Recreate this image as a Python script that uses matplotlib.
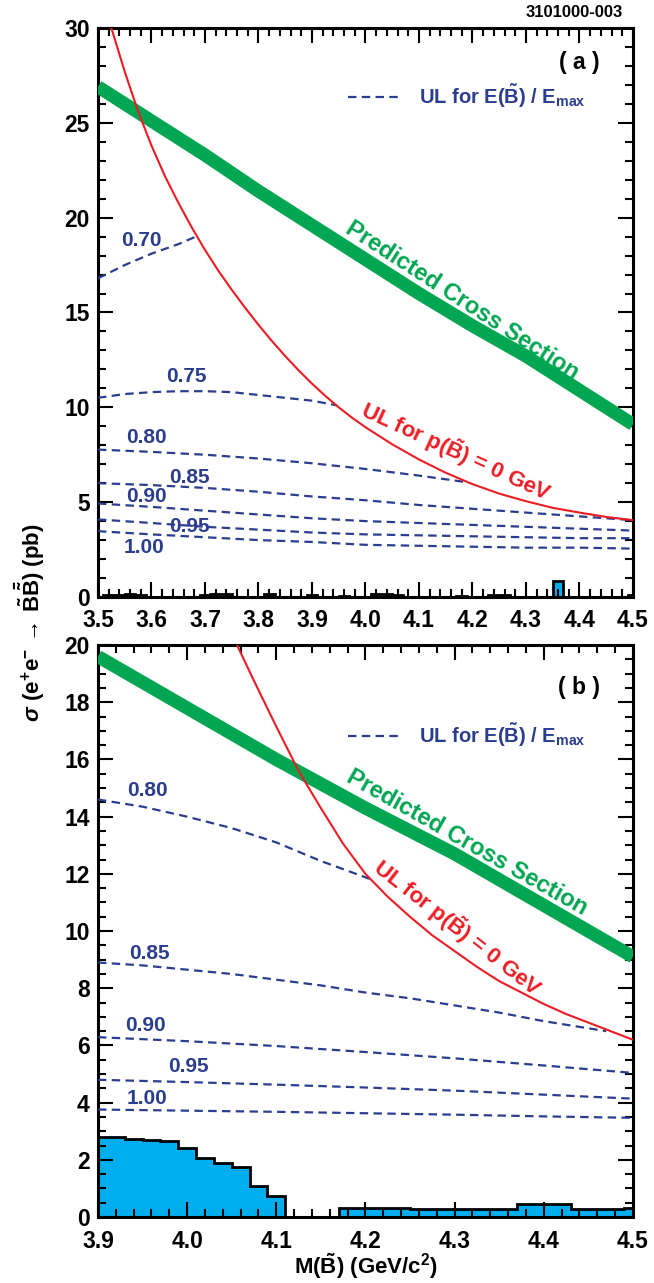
import numpy as np
import matplotlib
matplotlib.use('Agg')
import matplotlib.pyplot as plt
from matplotlib.ticker import MultipleLocator, FormatStrFormatter

plt.rcParams['font.family'] = ['Liberation Sans', 'DejaVu Sans']
plt.rcParams['font.weight'] = 'bold'
plt.rcParams['mathtext.fontset'] = 'custom'
plt.rcParams['mathtext.rm'] = 'Liberation Sans:bold'
plt.rcParams['mathtext.bf'] = 'Liberation Sans:bold'
plt.rcParams['mathtext.it'] = 'Liberation Sans:bold:italic'
plt.rcParams['mathtext.fallback'] = 'stix'

BLUE = '#2b3d8e'
RED = '#ed1c24'
GREEN = '#00a651'
FILL = '#00aeef'

# ---------------- panel (a) data ----------------
xs_a = [3.5, 3.6, 3.7, 3.8, 3.9, 4.0, 4.1, 4.2, 4.3, 4.4, 4.5]
pred_a = [26.9, 25.1, 23.3, 21.4, 19.6, 17.8, 16.0, 14.3, 12.7, 10.9, 9.1]

red_x_a = [3.525, 3.55, 3.575, 3.6, 3.625, 3.65, 3.675, 3.7, 3.725, 3.75, 3.775,
           3.8, 3.825, 3.85, 3.875, 3.9, 3.925, 3.95, 3.975, 4.0, 4.05, 4.1,
           4.15, 4.2, 4.25, 4.3, 4.35, 4.4, 4.45, 4.5]
red_y_a = [30.0, 27.7, 25.6, 23.8, 22.2, 20.8, 19.5, 18.3, 17.2, 16.2, 15.25,
           14.35, 13.5, 12.7, 11.95, 11.25, 10.6, 10.0, 9.45, 8.95, 8.05, 7.25,
           6.55, 5.95, 5.45, 5.05, 4.7, 4.45, 4.22, 4.05]

ul_a = {
    '0.70': ([3.5, 3.55, 3.6, 3.65, 3.683], [16.8, 17.5, 18.1, 18.6, 19.0]),
    '0.75': ([3.5, 3.55, 3.6, 3.65, 3.7, 3.75, 3.8, 3.85, 3.9, 3.947],
             [10.5, 10.7, 10.8, 10.85, 10.85, 10.8, 10.65, 10.5, 10.35, 10.1]),
    '0.80': ([3.5, 3.6, 3.7, 3.8, 3.9, 4.0, 4.1, 4.19],
             [7.77, 7.65, 7.5, 7.3, 7.05, 6.75, 6.4, 6.05]),
    '0.85': (xs_a, [6.0, 5.9, 5.75, 5.55, 5.3, 5.1, 4.85, 4.65, 4.45, 4.25, 4.05]),
    '0.90': (xs_a, [4.93, 4.75, 4.55, 4.35, 4.15, 4.0, 3.9, 3.8, 3.7, 3.6, 3.5]),
    '0.95': (xs_a, [4.09, 3.9, 3.7, 3.55, 3.4, 3.3, 3.25, 3.2, 3.15, 3.1, 3.1]),
    '1.00': (xs_a, [3.47, 3.3, 3.15, 3.0, 2.9, 2.75, 2.7, 2.65, 2.6, 2.6, 2.55]),
}
ul_label_pos_a = {
    '0.70': (3.582, 18.8), '0.75': (3.666, 11.6), '0.80': (3.59, 8.4),
    '0.85': (3.671, 6.3), '0.90': (3.59, 5.3), '0.95': (3.671, 3.7),
    '1.00': (3.586, 2.6),
}

hist_edges_a = np.round(np.arange(3.49, 4.5101, 0.02), 3)
hist_a = [0, 0.09, 0.09, 0.18, 0.10, 0, 0, 0, 0, 0,
          0.08, 0.18, 0.18, 0, 0, 0, 0.17, 0, 0, 0,
          0.09, 0, 0, 0.05, 0, 0, 0.15, 0.15, 0.12, 0,
          0, 0, 0, 0, 0.07, 0, 0, 0.13, 0.10, 0,
          0, 0, 0, 0.85, 0, 0, 0, 0, 0, 0,
          0.08]

# ---------------- panel (b) data ----------------
xs_b = [3.9, 4.0, 4.1, 4.2, 4.3, 4.4, 4.5]
pred_b = [19.6, 17.8, 16.0, 14.3, 12.7, 10.9, 9.1]

red_x_b = [4.056, 4.075, 4.1, 4.125, 4.15, 4.175, 4.2, 4.225, 4.25, 4.275, 4.3,
           4.325, 4.35, 4.375, 4.4, 4.425, 4.45, 4.475, 4.5]
red_y_b = [20.0, 18.75, 17.15, 15.6, 14.3, 13.05, 12.0, 11.2, 10.5, 9.85, 9.3,
           8.75, 8.25, 7.85, 7.45, 7.1, 6.8, 6.5, 6.2]

ul_b = {
    '0.80': ([3.9, 3.95, 4.0, 4.05, 4.1, 4.15, 4.207],
             [14.6, 14.35, 14.0, 13.6, 13.1, 12.45, 11.8]),
    '0.85': ([3.9, 3.95, 4.0, 4.05, 4.1, 4.15, 4.2, 4.25, 4.3, 4.35, 4.4, 4.47],
             [8.9, 8.8, 8.65, 8.5, 8.3, 8.1, 7.85, 7.65, 7.4, 7.15, 6.85, 6.5]),
    '0.90': (xs_b, [6.29, 6.15, 5.98, 5.77, 5.55, 5.3, 5.04]),
    '0.95': (xs_b, [4.80, 4.72, 4.63, 4.53, 4.42, 4.28, 4.14]),
    '1.00': (xs_b, [3.76, 3.72, 3.68, 3.63, 3.58, 3.52, 3.47]),
}
ul_label_pos_b = {
    '0.80': (3.956, 14.9), '0.85': (3.958, 9.2), '0.90': (3.953, 6.7),
    '0.95': (4.002, 5.25), '1.00': (3.955, 4.13),
}

hist_edges_b = np.round(np.arange(3.89, 4.5101, 0.02), 3)
hist_b = [2.80, 2.80, 2.74, 2.68, 2.65, 2.42, 2.07, 1.90, 1.75, 1.08,
          0.73, 0, 0, 0, 0.33, 0.32, 0.30, 0.30, 0.29, 0.28,
          0.28, 0.28, 0.28, 0.28, 0.47, 0.47, 0.47, 0.27, 0.27, 0.27,
          0.31]

legend_text = r'UL for E($\tilde{\mathbf{B}}$) / E$_{\mathbf{max}}$'
red_text = r'UL for p($\tilde{\mathbf{B}}$) = 0 GeV'

fig = plt.figure(figsize=(6.54, 12.83), dpi=100)
ax_a = fig.add_axes([0.1498, 0.5347, 0.818, 0.4435])
ax_b = fig.add_axes([0.1498, 0.0514, 0.818, 0.4458])


def draw_panel(ax, edges, hist, pred_x, pred_y, red_x, red_y, ul, ul_pos,
               xlim, ylim, ymaj, ymin, tag, tag_y, leg_y,
               green_pos, green_rot, red_pos, red_rot):
    ax.stairs(hist, edges, fill=True, color=FILL, zorder=1)
    ax.stairs(hist, edges, fill=False, color='black', linewidth=2.0, zorder=2)
    ax.plot(pred_x, pred_y, color=GREEN, linewidth=9.5, solid_capstyle='butt', zorder=3)
    ax.plot(red_x, red_y, color=RED, linewidth=1.5, zorder=4)
    first = None
    for key, (x, y) in ul.items():
        ln, = ax.plot(x, y, color=BLUE, linewidth=1.6, dashes=(3.8, 2.4), zorder=3)
        if first is None:
            first = ln
        lx, ly = ul_pos[key]
        ax.text(lx, ly, key, color=BLUE, fontsize=15, fontweight='bold',
                ha='center', va='center', zorder=5)
    ax.text(green_pos[0], green_pos[1], 'Predicted Cross Section', color=GREEN,
            fontsize=17, fontweight='bold', rotation=green_rot,
            rotation_mode='anchor', ha='center', va='center')
    ax.text(red_pos[0], red_pos[1], red_text, color=RED,
            fontsize=16, fontweight='bold', rotation=red_rot,
            rotation_mode='anchor', ha='center', va='center')
    ax.text(0.90, tag_y, '( %s )' % tag, transform=ax.transAxes, fontsize=16.5,
            fontweight='bold', ha='center', va='center')
    ax.legend([first], [legend_text], loc='center left',
              bbox_to_anchor=(0.468, leg_y), frameon=False, labelcolor=BLUE,
              prop={'weight': 'bold', 'size': 14.5}, handlelength=2.6,
              handletextpad=0.9, borderpad=0, borderaxespad=0)

    ax.set_xlim(*xlim)
    ax.set_ylim(*ylim)
    ax.xaxis.set_major_locator(MultipleLocator(0.1))
    ax.xaxis.set_minor_locator(MultipleLocator(0.02))
    ax.xaxis.set_major_formatter(FormatStrFormatter('%.1f'))
    ax.yaxis.set_major_locator(MultipleLocator(ymaj))
    ax.yaxis.set_minor_locator(MultipleLocator(ymin))
    ax.tick_params(which='both', direction='in', top=True, right=True,
                   labelsize=16.5, width=1.5)
    ax.tick_params(which='major', length=11)
    ax.tick_params(which='minor', length=6)
    ax.tick_params(axis='x', pad=9)
    ax.tick_params(axis='y', pad=6)
    for lab in ax.get_xticklabels() + ax.get_yticklabels():
        lab.set_fontweight('bold')
    for sp in ax.spines.values():
        sp.set_linewidth(2.2)


draw_panel(ax_a, hist_edges_a, hist_a, xs_a, pred_a, red_x_a, red_y_a, ul_a,
           ul_label_pos_a, (3.5, 4.5), (0, 30), 5, 1, 'a', 0.94, 0.88,
           (4.18, 15.6), -32.9, (4.169, 7.7), -24.6)
draw_panel(ax_b, hist_edges_b, hist_b, xs_b, pred_b, red_x_b, red_y_b, ul_b,
           ul_label_pos_b, (3.9, 4.5), (0, 20), 2, 0.5, 'b', 0.925, 0.843,
           (4.314, 13.1), -29.5, (4.303, 10.1), -38.0)

ax_b.set_xlabel(r'M($\tilde{\mathbf{B}}$) (GeV/c$^{\mathbf{2}}$)', fontsize=16,
                fontweight='bold', labelpad=-1)
fig.text(0.046, 0.515,
         r'$\sigma\ (\mathbf{e^{+}e^{-}}\,\rightarrow\,\tilde{\mathbf{B}}\bar{\tilde{\mathbf{B}}})$ (pb)',
         rotation=90, fontsize=16, fontweight='bold', ha='center', va='center')
fig.text(0.953, 0.990, '3101000-003', fontsize=12, fontweight='bold',
         ha='right', va='center')

fig.savefig('out.png', dpi=100)
